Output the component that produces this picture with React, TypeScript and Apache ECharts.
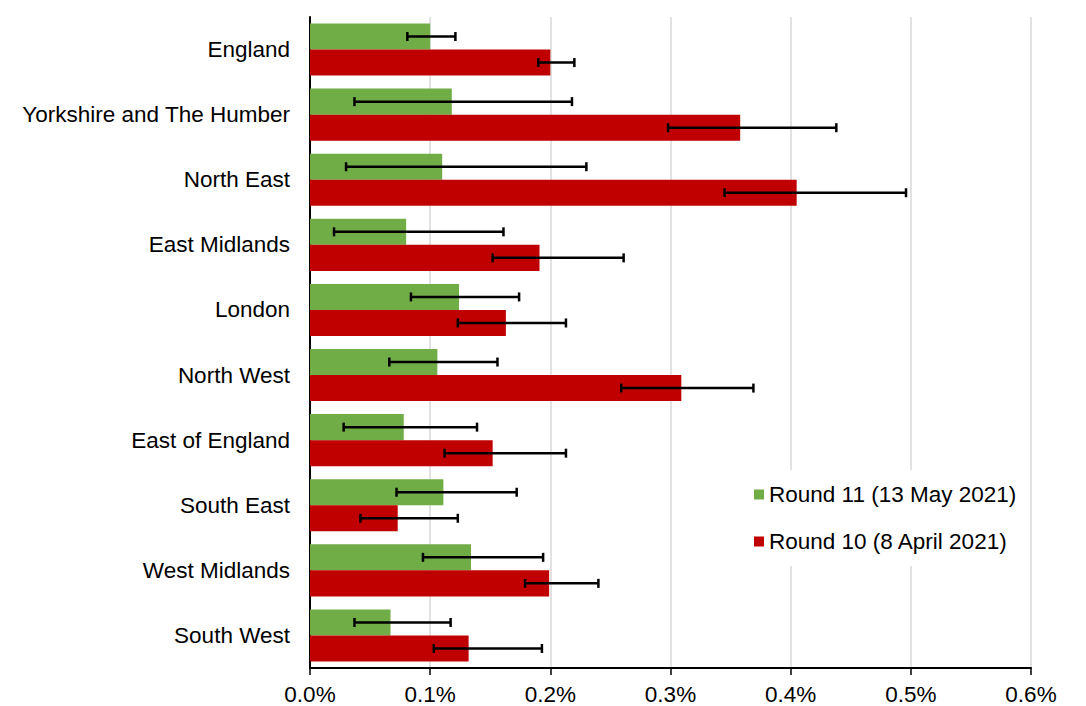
import React, { useEffect, useRef } from "react";
import * as echarts from "echarts";

const categories = [
  "England",
  "Yorkshire and The Humber",
  "North East",
  "East Midlands",
  "London",
  "North West",
  "East of England",
  "South East",
  "West Midlands",
  "South West",
];
const xTickValues = [0, 0.1, 0.2, 0.3, 0.4, 0.5, 0.6];

const round11Name = "Round 11 (13 May 2021)";
const round11 = [0.1, 0.118, 0.11, 0.08, 0.124, 0.106, 0.078, 0.111, 0.134, 0.067];
const round11Low = [0.081, 0.037, 0.03, 0.02, 0.084, 0.066, 0.028, 0.072, 0.094, 0.037];
const round11High = [0.121, 0.218, 0.23, 0.161, 0.174, 0.156, 0.139, 0.172, 0.194, 0.117];

const round10Name = "Round 10 (8 April 2021)";
const round10 = [0.2, 0.358, 0.405, 0.191, 0.163, 0.309, 0.152, 0.073, 0.199, 0.132];
const round10Low = [0.19, 0.298, 0.345, 0.152, 0.123, 0.259, 0.112, 0.042, 0.179, 0.103];
const round10High = [0.22, 0.438, 0.496, 0.261, 0.213, 0.369, 0.213, 0.123, 0.24, 0.193];

const FONT = "'Liberation Sans', Arial, sans-serif";
const FS = 22.5;

function errorSeries(low: number[], high: number[], side: number) {
  return {
    type: "custom",
    coordinateSystem: "cartesian2d",
    z: 10,
    silent: true,
    encode: { x: [1, 2], y: 0 },
    data: low.map((l, i) => [i, l, high[i]]),
    renderItem: (params: any, api: any) => {
      const cat = api.value(0);
      const p1 = api.coord([api.value(1), cat]);
      const p2 = api.coord([api.value(2), cat]);
      const band = api.size([0, 1])[1];
      const y = p1[1] + side * band * 0.2;
      const cap = 4.5;
      const style = { stroke: "#000", lineWidth: 2.5 };
      return {
        type: "group",
        children: [
          { type: "line", shape: { x1: p1[0], y1: y, x2: p2[0], y2: y }, style },
          { type: "line", shape: { x1: p1[0], y1: y - cap, x2: p1[0], y2: y + cap }, style },
          { type: "line", shape: { x1: p2[0], y1: y - cap, x2: p2[0], y2: y + cap }, style },
        ],
      };
    },
  };
}

export default function App() {
  const ref = useRef<HTMLDivElement>(null);

  useEffect(() => {
    document.body.style.margin = "0";
    if (!ref.current) return;
    const chart = echarts.init(ref.current, undefined, { renderer: "svg" });
    chart.setOption({
      animation: false,
      backgroundColor: "#fff",
      textStyle: { fontFamily: FONT },
      grid: { left: 310, right: 55, top: 17, bottom: 37, containLabel: false },
      legend: {
        data: [round11Name, round10Name],
        orient: "vertical",
        left: 742,
        top: 470,
        padding: [13, 12],
        backgroundColor: "#fff",
        icon: "rect",
        itemWidth: 10,
        itemHeight: 10,
        itemGap: 24,
        textStyle: { fontSize: FS, color: "#000", fontFamily: FONT },
      },
      xAxis: {
        type: "value",
        min: xTickValues[0],
        max: xTickValues[xTickValues.length - 1],
        interval: 0.1,
        axisLine: { show: true, lineStyle: { color: "#000", width: 2 } },
        axisTick: { show: true, length: 7, lineStyle: { color: "#000", width: 1.5 } },
        splitLine: { show: true, lineStyle: { color: "#d9d9d9", width: 1.5 } },
        axisLabel: {
          fontSize: FS,
          color: "#000",
          fontFamily: FONT,
          margin: 15,
          formatter: (v: number) => v.toFixed(1) + "%",
        },
      },
      yAxis: {
        type: "category",
        data: categories,
        inverse: true,
        axisLine: { show: true, lineStyle: { color: "#000", width: 2 } },
        axisTick: { show: false },
        axisLabel: { fontSize: FS, color: "#000", fontFamily: FONT, margin: 20 },
      },
      series: [
        {
          name: round11Name,
          type: "bar",
          data: round11,
          barGap: "0%",
          barCategoryGap: "20%",
          itemStyle: { color: "#70AD47" },
        },
        {
          name: round10Name,
          type: "bar",
          data: round10,
          barGap: "0%",
          barCategoryGap: "20%",
          itemStyle: { color: "#C00000" },
        },
        errorSeries(round11Low, round11High, -1),
        errorSeries(round10Low, round10High, 1),
      ],
    });
    return () => chart.dispose();
  }, []);

  return <div ref={ref} style={{ width: 1086, height: 706 }} />;
}
